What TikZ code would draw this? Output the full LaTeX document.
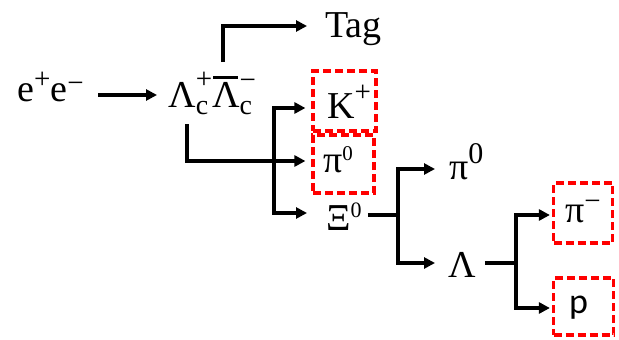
\documentclass[tikz,border=0pt]{standalone}
\usepackage{fontspec}
\setmainfont{Liberation Serif}
\newfontfamily\calib{Carlito}
\usetikzlibrary{arrows.meta}
% raised / lowered small text: #1 shift, #2 size, #3 text
\newcommand\su[3]{\raisebox{#1}{\fontsize{#2}{#2}\selectfont #3}}
\newcommand\ovlbar[1]{\setbox0=\hbox{#1}\rlap{\raisebox{\dimexpr\ht0+3pt\relax}{\kern1pt\rule{\dimexpr\wd0-3pt\relax}{2.5pt}}}\box0}
\newcommand\SupSub[4]{% #1 sup raise, #2 sup text, #3 sub lower, #4 sub text
  \setbox2=\hbox{\fontsize{29}{29}\selectfont #2}%
  \setbox4=\hbox{\fontsize{28}{28}\selectfont #4}%
  \ifdim\wd2>\wd4 \dimen2=\wd2 \else \dimen2=\wd4 \fi
  \rlap{\raise#1\box2}\rlap{\lower#3\box4}\kern\dimen2\relax}
\begin{document}
\begin{tikzpicture}[x=1pt,y=-1pt,
  lbl/.style={inner sep=0pt, font=\fontsize{38}{42}\selectfont},
  selbox/.style={draw=red, line width=3.2pt, dash pattern=on 8pt off 4pt, inner sep=0pt},
  ln/.style={line width=3.2pt},
  arr/.style={line width=3.2pt, -{Triangle[length=11pt,width=11pt]}}]
\useasboundingbox (0,0) rectangle (619,340);

% selection boxes
\node[selbox, minimum width=63pt, minimum height=60pt] (kbox) at (344.5,101) {};
\node[selbox, minimum width=61pt, minimum height=58pt] (pibox) at (343.5,164) {};
\node[selbox, minimum width=59pt, minimum height=60pt] (pimbox) at (583,213) {};
\node[selbox, minimum width=60pt, minimum height=57pt] (pbox) at (583.5,306.5) {};

% labels
\node[lbl, anchor=base east] (ee) at (84,101) {e\su{13pt}{29}{+}e\su{8.5pt}{29}{−}};
\node[lbl, anchor=base west] (lc) at (168,107) {Λ\SupSub{19pt}{+}{7pt}{c}\ovlbar{Λ}\SupSub{18pt}{−}{7pt}{c}};
\node[lbl, anchor=base west] (tag) at (325,37) {Tag};
\node[lbl, anchor=base west] (kp) at (327,118) {K\su{17pt}{29}{+}};
\node[lbl, anchor=base west] (pia) at (323,172) {π\su{12pt}{21}{0}};
\node[lbl, anchor=base west] (xi) at (326,230) {Ξ\su{13pt}{22}{0}};
\node[lbl, anchor=base west] (pib) at (449,179) {π\su{16pt}{30}{0}};
\node[lbl, anchor=base west] (lam) at (448,277) {Λ};
\node[lbl, anchor=base west] (pim) at (565,222) {π\su{11.5pt}{29}{−}};
\node[lbl, anchor=base west, font=\calib\fontsize{36}{40}\selectfont] (pp) at (569,313) {p};

% junctions
\coordinate (j1) at (274,161);
\coordinate (j2) at (398,215);
\coordinate (j3) at (516,263);

% connectors
\draw[arr] ([xshift=14pt,yshift=6pt]ee.base east) -- ([xshift=-11pt,yshift=12pt]lc.base west);
\draw[arr] ([xshift=55pt,yshift=45pt]lc.base west) |- ([xshift=-18pt,yshift=11pt]tag.base west);
\draw[arr] ([xshift=19pt,yshift=-17pt]lc.base west) |- ([xshift=-6pt,yshift=3pt]pibox.west);
\draw[arr] (j1) |- ([xshift=-6pt,yshift=-7pt]kbox.west);
\draw[arr] (j1) |- ([xshift=-19pt,yshift=17pt]xi.base west);
\draw[ln] ([xshift=6pt,yshift=15pt]xi.base east) -- (j2);
\draw[arr] (j2) |- ([xshift=-14pt,yshift=10pt]pib.base west);
\draw[arr] (j2) |- ([xshift=-13pt,yshift=14pt]lam.base west);
\draw[ln] ([xshift=9pt,yshift=14pt]lam.base east) -- (j3);
\draw[arr] (j3) |- ([xshift=-2pt,yshift=-2pt]pimbox.west);
\draw[arr] (j3) |- ([xshift=-2pt,yshift=-1.5pt]pbox.west);
\end{tikzpicture}
\end{document}
